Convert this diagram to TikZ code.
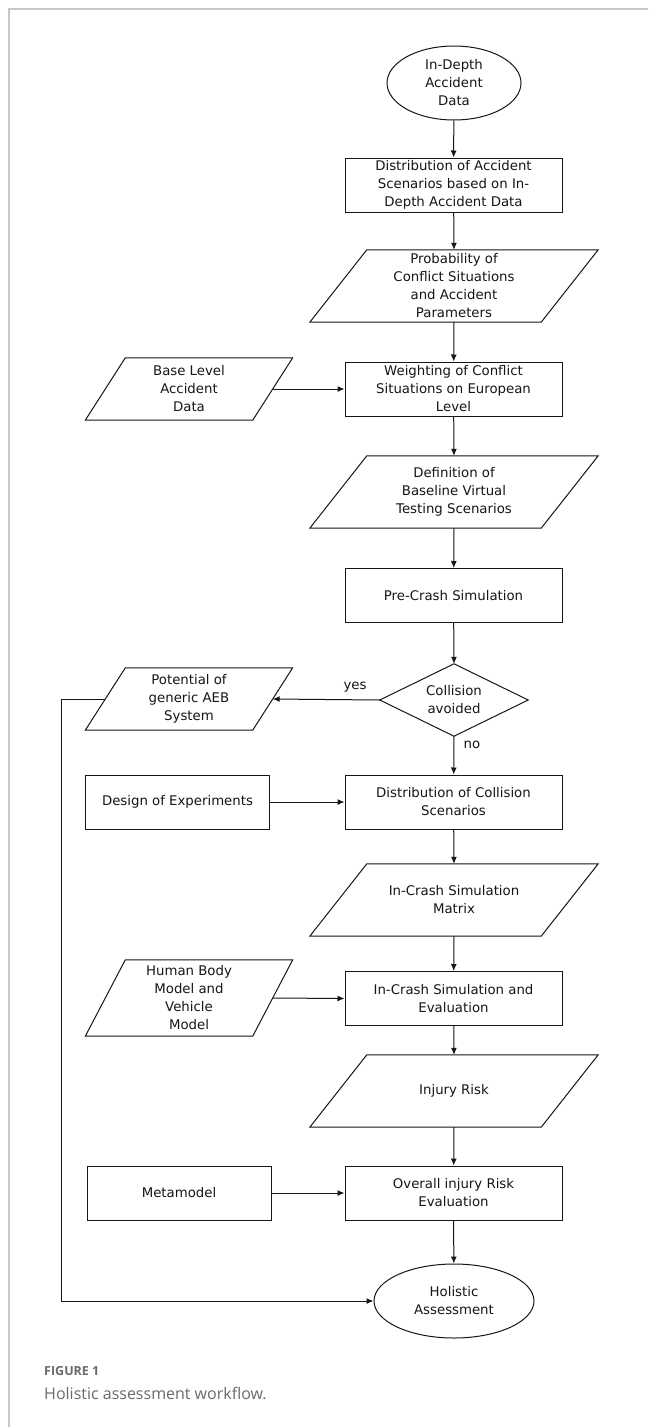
\documentclass[tikz,border=0pt]{standalone}
\usepackage{fontspec}
\setmainfont{DejaVu Sans}
\newfontfamily\capfont{Open Sans}
\usetikzlibrary{arrows.meta,shapes.geometric}
\definecolor{ink}{HTML}{161616}
\definecolor{framegray}{HTML}{C8C8C8}
\definecolor{capgray}{HTML}{6A6A6A}
\newcommand\drawpara[2]{\draw[outl] ([xshift=#2]#1.north west) -- ([xshift=#2]#1.north east) -- ([xshift=-#2]#1.south east) -- ([xshift=-#2]#1.south west) -- cycle;}
\begin{document}
\begin{tikzpicture}[x=1pt,y=-1pt,
  every node/.style={font=\fontsize{13.3}{18}\selectfont, align=center, inner sep=0pt, text=ink},
  outl/.style={draw=ink, line width=1pt},
  boxnode/.style={outl, minimum width=217pt, minimum height=54pt},
  leftbox/.style={outl, minimum width=184pt, minimum height=54pt},
  mainpara/.style={minimum width=231pt, minimum height=72pt},
  leftpara/.style={minimum width=167pt, minimum height=#1},
  ovalnode/.style={outl, ellipse, minimum width=#1, minimum height=74pt},
  arr/.style={-{Latex[length=7pt,width=6pt]}, line width=1pt, draw=ink},
]
\useasboundingbox (0,0) rectangle (648,1427);
\fill[white] (0,0) rectangle (648,1427);
% frame
\draw[framegray, line width=1.2pt] (648,9) -- (9,9) -- (9,1427);

% nodes
\node[ovalnode=134pt] (top) at (454,83) {In-Depth\\Accident\\Data};
\node[boxnode] (dist1) at (453.5,185) {Distribution of Accident\\Scenarios based on In-\\Depth Accident Data};
\node[mainpara] (prob) at (454,286) {Probability of\\Conflict Situations\\and Accident\\Parameters};
\node[boxnode] (weight) at (453.5,389) {Weighting of Conflict\\Situations on European\\Level};
\node[leftpara=62pt] (base) at (189,389) {Base Level\\Accident\\Data};
\node[mainpara] (def) at (454,492) {Definition of\\Baseline Virtual\\Testing Scenarios};
\node[boxnode] (pre) at (453.5,595.5) {Pre-Crash Simulation};
\node[minimum width=148pt, minimum height=72pt] (dia) at (454,700) {Collision\\avoided};
\node[leftpara=62pt] (pot) at (189,699) {Potential of\\generic AEB\\System};
\node[boxnode] (distcol) at (453.5,802) {Distribution of Collision\\Scenarios};
\node[leftbox] (design) at (177.5,802) {Design of Experiments};
\node[mainpara] (matrix) at (454,900) {In-Crash Simulation\\Matrix};
\node[boxnode] (incrash) at (453.5,998.5) {In-Crash Simulation and\\Evaluation};
\node[leftpara=76pt] (human) at (189,998) {Human Body\\Model and\\Vehicle\\Model};
\node[mainpara] (injury) at (454,1091) {Injury Risk};
\node[boxnode] (overall) at (453.5,1193) {Overall injury Risk\\Evaluation};
\node[leftbox] (meta) at (179,1193) {Metamodel};
\node[ovalnode=160pt] (hol) at (454,1301) {Holistic\\Assessment};

% shapes drawn around text nodes
\drawpara{prob}{28.5pt}
\drawpara{def}{28.5pt}
\drawpara{matrix}{28.5pt}
\drawpara{injury}{28.5pt}
\drawpara{base}{20pt}
\drawpara{pot}{20pt}
\drawpara{human}{20pt}
\draw[outl] (dia.north) -- (dia.east) -- (dia.south) -- (dia.west) -- cycle;

% labels
\node (yes) at (355,687) {yes};
\node (no) at (472,745) {no};

% connectors
\draw[arr] (top) -- (dist1);
\draw[arr] (dist1) -- (prob.north);
\draw[arr] (prob.south) -- (weight);
\draw[arr] (base.east) -- (weight.west);
\draw[arr] (weight) -- (def.north);
\draw[arr] (def.south) -- (pre);
\draw[arr] (pre) -- (dia.north);
\draw[arr] (dia.west) -- (pot.east);
\draw[arr] (dia.south) -- (distcol);
\draw[arr] (design.east) -- (distcol.west);
\draw[arr] (distcol) -- (matrix.north);
\draw[arr] (matrix.south) -- (incrash);
\draw[arr] (human.east) -- (incrash.west);
\draw[arr] (incrash) -- (injury.north);
\draw[arr] (injury.south) -- (overall);
\draw[arr] (meta.east) -- (overall.west);
\draw[arr] (overall) -- (hol);
\draw[arr] (pot.west) -- ++(-44,0) |- (hol.west);

% caption
\node[anchor=base west, font=\capfont\bfseries\fontsize{12.5}{15}\selectfont, text=capgray] (figlbl) at (44,1375) {FIGURE 1};
\node[anchor=base west, font=\capfont\fontsize{16}{20}\selectfont, text=capgray] (caption) at (44,1399) {Holistic assessment workflow.};
\end{tikzpicture}
\end{document}
